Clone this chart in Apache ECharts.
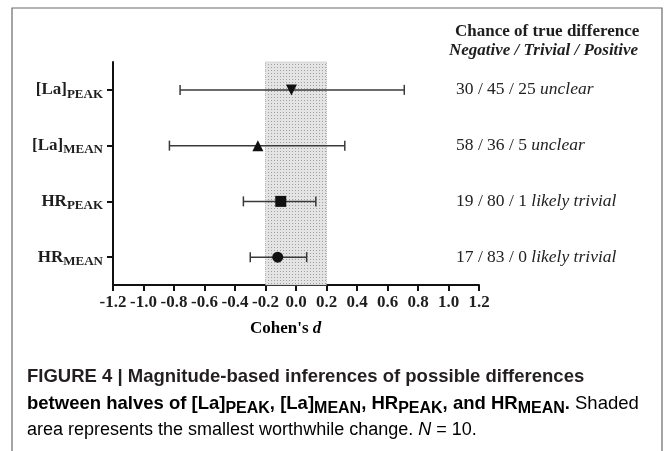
<!DOCTYPE html>
<html>
<head>
<meta charset="utf-8">
<script src="https://cdn.jsdelivr.net/npm/echarts@6/dist/echarts.min.js"></script>
<style>
html,body{margin:0;padding:0;background:#fff;}
#c{width:667px;height:451px;}
</style>
</head>
<body>
<div id="c"></div>
<script>
// ---- data ----
var categories = ['[La]PEAK', '[La]MEAN', 'HRPEAK', 'HRMEAN'];
var catMain = ['[La]', '[La]', 'HR', 'HR'];
var catSub = ['PEAK', 'MEAN', 'PEAK', 'MEAN'];
var effect = [-0.03, -0.25, -0.10, -0.12];
var lower = [-0.76, -0.83, -0.345, -0.30];
var upper = [0.71, 0.32, 0.13, 0.07];
var chances = ['30 / 45 / 25', '58 / 36 / 5', '19 / 80 / 1', '17 / 83 / 0'];
var verdicts = ['unclear', 'unclear', 'likely trivial', 'likely trivial'];
var markerShapes = ['triangle', 'triangle', 'rect', 'circle'];
var markerRotations = [180, 0, 0, 0];
var swcRange = [-0.2, 0.2];
var xTicks = { min: -1.2, max: 1.2, step: 0.2 };

// ---- dotted pattern for shaded area ----
var pat = document.createElement('canvas');
pat.width = 3; pat.height = 3;
var pctx = pat.getContext('2d');
pctx.fillStyle = '#e4e4e4'; pctx.fillRect(0, 0, 3, 3);
pctx.fillStyle = '#a0a0a0'; pctx.fillRect(1, 1, 1, 1);

var serif = '"Liberation Serif", "Times New Roman", serif';
var sans = '"Liberation Sans", Arial, Helvetica, sans-serif';
var ink = '#1e1e1e';

var chart = echarts.init(document.getElementById('c'), null, { renderer: 'canvas' });

var ciData = categories.map(function (c, i) { return [i, lower[i], effect[i], upper[i]]; });
var ptData = categories.map(function (c, i) {
  return { value: [effect[i], c], symbol: markerShapes[i], symbolRotate: markerRotations[i] };
});

var option = {
  backgroundColor: '#ffffff',
  animation: false,
  grid: { left: 113, right: 188, top: 62, bottom: 166, containLabel: false },
  xAxis: {
    type: 'value', min: xTicks.min, max: xTicks.max, interval: xTicks.step,
    axisLine: { show: true, onZero: false, lineStyle: { color: '#111', width: 2 } },
    axisTick: { show: true, length: 6, lineStyle: { color: '#111', width: 2 } },
    splitLine: { show: false },
    axisLabel: {
      margin: 9, color: ink, fontFamily: serif, fontWeight: 'bold', fontSize: 17,
      formatter: function (v) { return (Math.abs(v) < 1e-9 ? 0 : v).toFixed(1); }
    }
  },
  yAxis: [{
    type: 'category', data: categories, inverse: true, boundaryGap: true,
    axisLine: { show: true, onZero: false, lineStyle: { color: '#111', width: 2 } },
    axisTick: { show: true, alignWithLabel: true, length: 6, lineStyle: { color: '#111', width: 2 } },
    splitLine: { show: false },
    axisLabel: {
      margin: 10, color: ink,
      formatter: function (v, i) { return '{m|' + catMain[i] + '}{s|' + catSub[i] + '}'; },
      rich: {
        m: { fontFamily: serif, fontWeight: 'bold', fontSize: 17, color: ink },
        s: { fontFamily: serif, fontWeight: 'bold', fontSize: 13, color: ink, padding: [9, 0, 0, 0] }
      }
    }
  }, {
    type: 'category', data: categories, inverse: true, boundaryGap: true, position: 'right',
    axisLine: { show: false, onZero: false }, axisTick: { show: false }, splitLine: { show: false },
    axisLabel: {
      margin: -23, align: 'left', color: ink,
      formatter: function (v, i) { return '{n|' + chances[i] + ' }{it|' + verdicts[i] + '}'; },
      rich: {
        n: { fontFamily: serif, fontSize: 17.5, color: '#222' },
        it: { fontFamily: serif, fontStyle: 'italic', fontSize: 17.5, color: '#222' }
      }
    }
  }],
  series: [{
    type: 'custom',
    data: ciData,
    z: 3,
    renderItem: function (params, api) {
      var y = api.coord([0, api.value(0)])[1];
      var x1 = api.coord([api.value(1), 0])[0];
      var x2 = api.coord([api.value(3), 0])[0];
      var h = 5;
      var st = { stroke: '#3a3a3a', lineWidth: 1.5 };
      return {
        type: 'group',
        children: [
          { type: 'line', shape: { x1: x1, y1: y, x2: x2, y2: y }, style: st },
          { type: 'line', shape: { x1: x1, y1: y - h, x2: x1, y2: y + h }, style: st },
          { type: 'line', shape: { x1: x2, y1: y - h, x2: x2, y2: y + h }, style: st }
        ]
      };
    },
    encode: { x: [1, 2, 3], y: 0 },
    markArea: {
      silent: true,
      itemStyle: { color: { image: pat, repeat: 'repeat' }, borderColor: '#b8b8b8', borderWidth: 1, borderType: 'dotted' },
      data: [[{ xAxis: swcRange[0] }, { xAxis: swcRange[1] }]]
    }
  }, {
    type: 'scatter',
    data: ptData,
    symbolSize: 11,
    z: 4,
    itemStyle: { color: '#111', opacity: 1 }
  }],
  graphic: [
    { type: 'rect', shape: { x: 12, y: 8, width: 650, height: 470 }, style: { fill: null, stroke: '#6a6a6a', lineWidth: 1.2 }, z: -10, silent: true },
    { type: 'text', left: 455, top: 23, style: { text: 'Chance of true difference', font: 'bold 17px ' + serif, fill: ink } },
    { type: 'text', left: 449, top: 42, style: { text: 'Negative / Trivial / Positive', font: 'italic bold 17px ' + serif, fill: ink } },
    { type: 'text', left: 250, top: 320, style: {
      text: "{b|Cohen's }{i|d}", rich: {
        b: { fontFamily: serif, fontWeight: 'bold', fontSize: 17, color: ink },
        i: { fontFamily: serif, fontWeight: 'bold', fontStyle: 'italic', fontSize: 17, color: ink }
      } } },
    { type: 'text', left: 27, top: 367, style: {
      text: 'FIGURE 4 | Magnitude-based inferences of possible differences',
      font: 'bold 18.5px ' + sans, fill: '#231f20' } },
    { type: 'text', left: 27, top: 394, style: {
      text: '{b|between halves of [La]}{bs|PEAK}{b|, [La]}{bs|MEAN}{b|, HR}{bs|PEAK}{b|, and HR}{bs|MEAN}{b|. }{n|Shaded}',
      rich: {
        b: { fontFamily: sans, fontWeight: 'bold', fontSize: 18.5, color: '#231f20' },
        bs: { fontFamily: sans, fontWeight: 'bold', fontSize: 16, color: '#231f20', padding: [10, 0, 0, 0] },
        n: { fontFamily: sans, fontSize: 18.5, color: '#333' }
      } } },
    { type: 'text', left: 27, top: 421, style: {
      text: '{n|area represents the smallest worthwhile change. }{i|N}{n| = 10.}',
      rich: {
        n: { fontFamily: sans, fontSize: 18, color: '#333' },
        i: { fontFamily: sans, fontStyle: 'italic', fontSize: 18, color: '#333' }
      } } }
  ]
};
chart.setOption(option);
</script>
</body>
</html>
